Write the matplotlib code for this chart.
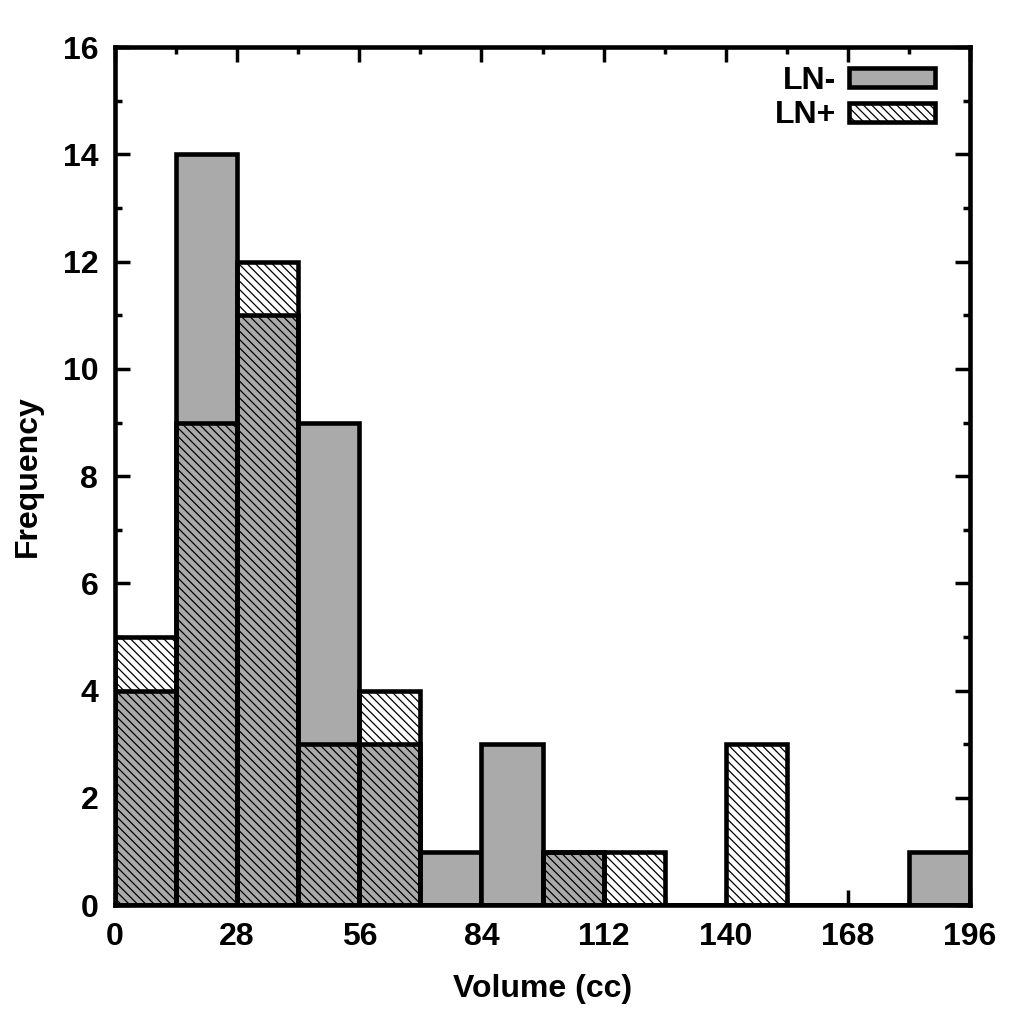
import numpy as np
import matplotlib.pyplot as plt
from matplotlib.ticker import MultipleLocator

plt.rcParams['font.family'] = ['Liberation Sans', 'DejaVu Sans']
plt.rcParams['font.weight'] = 'bold'
plt.rcParams['hatch.linewidth'] = 0.9

# histogram bins (cc) and counts
bin_left = [0, 14, 28, 42, 56, 70, 84, 98, 112, 126, 140, 154, 168, 182]
bin_width = 14
ln_neg = [4, 14, 11, 9, 3, 1, 3, 1, 0, 0, 0, 0, 0, 1]
ln_pos = [5, 9, 12, 3, 4, 0, 0, 1, 1, 0, 3, 0, 0, 0]

x_ticks = [0, 28, 56, 84, 112, 140, 168, 196]
y_ticks = [0, 2, 4, 6, 8, 10, 12, 14, 16]

fs = 23

fig = plt.figure(figsize=(10.24, 10.24), dpi=100)
ax = fig.add_axes([0.1123, 0.116, 0.8350, 0.838])

ax.bar(bin_left, ln_neg, width=bin_width, align='edge', color='#aaaaaa',
       edgecolor='black', linewidth=3.3, label='LN-', zorder=2)
ax.bar(bin_left, ln_pos, width=bin_width, align='edge', fill=False,
       edgecolor='black', hatch='\\\\\\\\', linewidth=3.3, label='LN+', zorder=3)

ax.set_xlim(0, 196)
ax.set_ylim(0, 16)
ax.set_xticks(x_ticks)
ax.set_yticks(y_ticks)
ax.xaxis.set_minor_locator(MultipleLocator(14))
ax.yaxis.set_minor_locator(MultipleLocator(1))
ax.tick_params(which='both', direction='in', top=True, right=True, width=2.5, labelsize=fs)
ax.tick_params(which='major', length=11, pad=12)
ax.tick_params(which='minor', length=5)
for s in ax.spines.values():
    s.set_linewidth(3.3)
    s.set_zorder(5)

ax.set_xlabel('Volume (cc)', fontsize=fs, fontweight='bold', labelpad=16)
ax.set_ylabel('Frequency', fontsize=fs, fontweight='bold', labelpad=14)

leg = ax.legend(loc='upper right', bbox_to_anchor=(0.959, 0.978), frameon=False,
                markerfirst=False, fontsize=fs, handlelength=2.7, handleheight=0.53,
                labelspacing=0.14, handletextpad=0.4, borderaxespad=0, borderpad=0)

fig.savefig('out.png', dpi=100)
